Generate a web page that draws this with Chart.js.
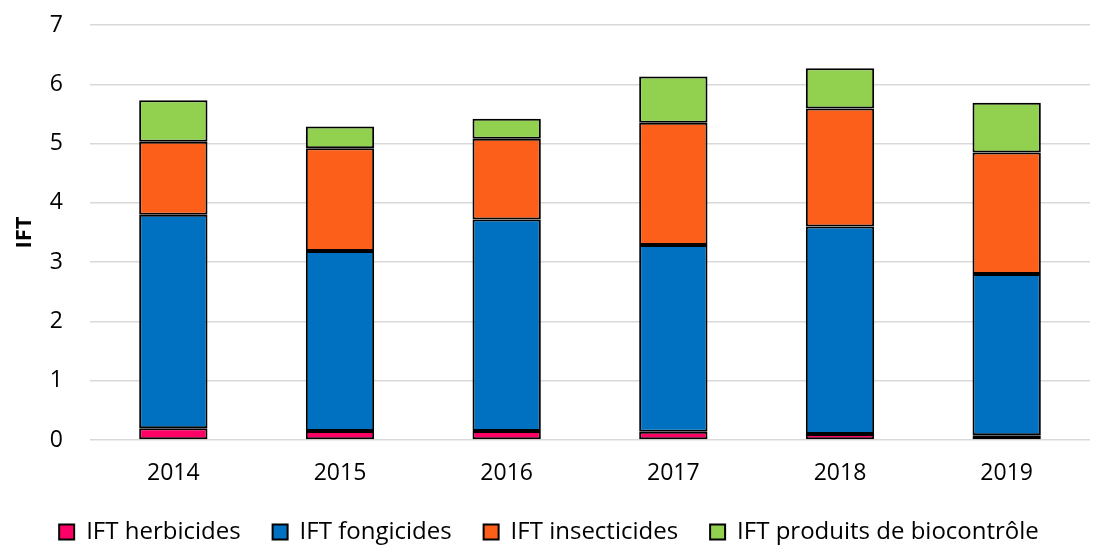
<!DOCTYPE html>
<html>
<head>
<meta charset="utf-8">
<script src="https://cdn.jsdelivr.net/npm/chart.js@4"></script>
<style>
  html, body { margin: 0; padding: 0; background: #fff; }
  #wrap { width: 1105px; height: 545px; }
</style>
</head>
<body>
<div id="wrap"><canvas id="chart" width="1105" height="545"></canvas></div>
<script>
// Data
const years = ['2014', '2015', '2016', '2017', '2018', '2019'];
const herbicides = [0.2, 0.15, 0.15, 0.14, 0.1, 0.08];
const fongicides = [3.6, 3.04, 3.57, 3.15, 3.5, 2.72];
const insecticides = [1.23, 1.73, 1.36, 2.06, 1.99, 2.05];
const biocontrole = [0.7, 0.37, 0.34, 0.78, 0.68, 0.84];

const font = 'Open Sans';

function makeSet(label, data, color) {
  return {
    label: label,
    data: data,
    backgroundColor: color,
    borderColor: '#000',
    borderWidth: 2,
    borderSkipped: false,
    barPercentage: 0.41,
    categoryPercentage: 1.0
  };
}

const ctx = document.getElementById('chart').getContext('2d');
new Chart(ctx, {
  type: 'bar',
  data: {
    labels: years,
    datasets: [
      makeSet('IFT herbicides', herbicides, '#FF0066'),
      makeSet('IFT fongicides', fongicides, '#0070C0'),
      makeSet('IFT insecticides', insecticides, '#FC5F19'),
      makeSet('IFT produits de biocontrôle', biocontrole, '#92D050')
    ]
  },
  options: {
    responsive: false,
    animation: false,
    layout: { padding: { left: 8, right: 15, top: 0, bottom: -9 } },
    plugins: {
      legend: {
        position: 'bottom',
        labels: {
          font: { family: font, size: 24 },
          color: '#000',
          boxWidth: 15,
          boxHeight: 15,
          padding: 32
        }
      },
      tooltip: { enabled: false }
    },
    scales: {
      x: {
        stacked: true,
        grid: { display: false },
        border: { display: false },
        ticks: { font: { family: font, size: 23 }, color: '#000', padding: 12 },
        afterFit: function(scale) { scale.height = 48; }
      },
      y: {
        stacked: true,
        min: 0,
        max: 7,
        ticks: { stepSize: 1, font: { family: font, size: 23 }, color: '#000', padding: 27 },
        grid: { color: '#d9d9d9', lineWidth: 1.5, drawTicks: false },
        border: { display: false },
        title: {
          display: true,
          text: 'IFT',
          font: { family: font, size: 22, weight: 'bold' },
          color: '#000',
          padding: 4
        },
        afterFit: function(scale) {
          scale.width = 82;
          scale.paddingTop = 25;
        }
      }
    }
  }
});
</script>
</body>
</html>
